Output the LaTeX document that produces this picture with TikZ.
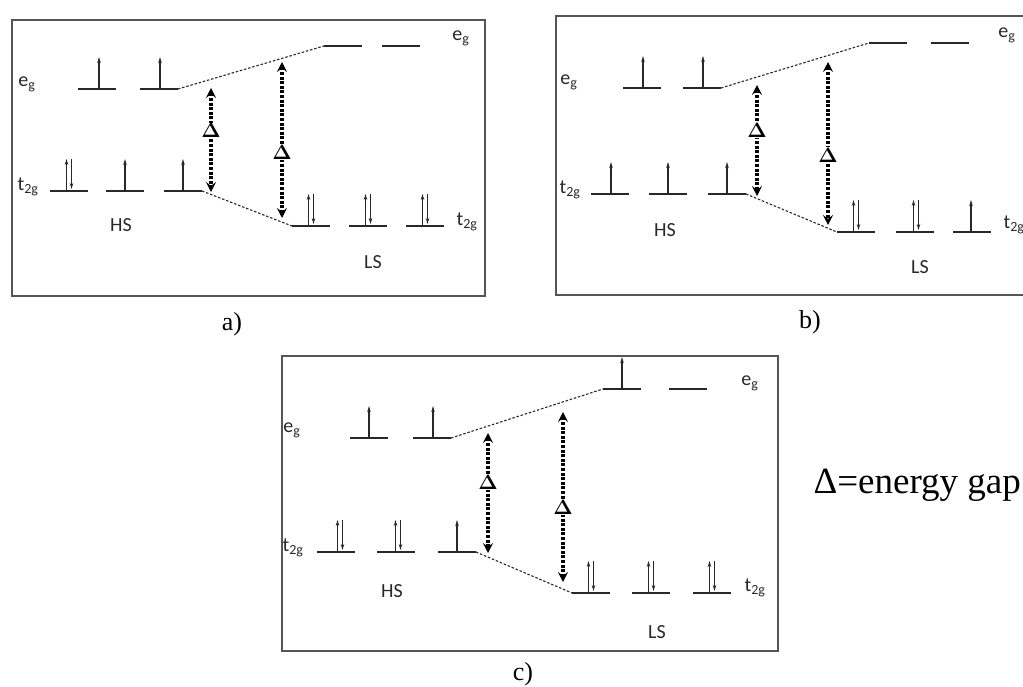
\documentclass[tikz,border=0pt]{standalone}
\usepackage{fontspec}
\setmainfont{Liberation Serif}
\newfontfamily\calibri{Carlito}
\usetikzlibrary{arrows.meta}
\definecolor{linegray}{RGB}{40, 40, 40}
\definecolor{framegray}{RGB}{85, 85, 85}

\begin{document}
\begin{tikzpicture}[x=1pt, y=-1pt, line width=1pt,
    panelbox/.style={framegray, line width=1.4pt},
    lvl/.style={linegray, line width=1.5pt},
    spin/.style={linegray, line width=1.4pt, -{Stealth[length=6pt, width=3.5pt]}},
    link/.style={linegray, line width=1.1pt, dash pattern=on 2.5pt off 1.8pt},
    gap/.style={black, line width=3.2pt, dash pattern=on 3pt off 1.6pt,
        {Stealth[length=10pt, width=10pt, inset=4pt]}-{Stealth[length=10pt, width=10pt, inset=4pt]}},
    delta/.style={fill=white, inner sep=0.3pt, font=\boldmath\fontsize{20}{20}\selectfont},
    orb/.style={font=\calibri\fontsize{20}{20}\selectfont, text=linegray},
    paneltag/.style={font=\fontsize{26}{26}\selectfont}]
    % Page size (pixels of the reference)
    \useasboundingbox (0,0) rectangle (1023,687);
    \def\hw{19}  % half-width of an orbital level
    \def\sl{32}  % length of a spin arrow

    % 1. Frames
    \draw[panelbox] (12,20) rectangle (485,296);
    \draw[panelbox] (556,16) rectangle (1026,295);
    \draw[panelbox] (282,356) rectangle (778,651);

    % 2. Orbital levels (name/centre x/y)
    \foreach \nm/\x/\y in {aHe1/97/89, aHe2/159/89, aLe1/343/46, aLe2/401/46,
                           aHt1/69/191, aHt2/125/191, aHt3/183/191,
                           aLt1/311/226, aLt2/368/226, aLt3/425/226,
                           bHe1/642/88, bHe2/702/88, bLe1/888/43, bLe2/950/43,
                           bHt1/610/194, bHt2/668/194, bHt3/727/194,
                           bLt1/856/232, bLt2/915/232, bLt3/972/232,
                           cHe1/369/438, cHe2/432/438, cLe1/622/389, cLe2/688/389,
                           cHt1/336/552, cHt2/396/552, cHt3/457/552,
                           cLt1/591/593, cLt2/651/593, cLt3/712/593}
        \draw[lvl] (\x-\hw,\y) coordinate (\nm-l) -- (\x+\hw,\y) coordinate (\nm-r);

    % 3. Single electrons
    \foreach \x/\y in {99/89, 160/89, 125/191, 183/191,
                       643/88, 703/88, 611/194, 668/194, 727/194, 971/232,
                       369/438, 433/438, 457/552, 622/389}
        \draw[spin] (\x,\y) -- ++(0,-\sl);

    % 4. Paired electrons
    \foreach \x/\y in {69/191, 311/226, 368/226, 425/226,
                       856/232, 916/232,
                       340/552, 398/552, 591/593, 651/593, 712/593} {
        \draw[spin] (\x-2.5,\y) -- ++(0,-\sl);
        \draw[spin] (\x+2.5,\y-\sl) -- (\x+2.5,\y-2);
    }

    % 5. Dotted correlation lines HS -> LS
    \draw[link] (aHe2-r) -- (aLe1-l);
    \draw[link] (aHt3-r) -- (aLt1-l);
    \draw[link] (bHe2-r) -- (bLe1-l);
    \draw[link] (bHt3-r) -- (bLt1-l);
    \draw[link] (cHe2-r) -- (cLe1-l);
    \draw[link] (cHt3-r) -- (cLt1-l);

    % 6. Energy gaps
    \coordinate (aG1t) at (211,88);  \coordinate (aG1b) at (211,192);
    \coordinate (aG2t) at (282,62);  \coordinate (aG2b) at (282,218);
    \coordinate (bG1t) at (757,85);  \coordinate (bG1b) at (757,196);
    \coordinate (bG2t) at (828,62);  \coordinate (bG2b) at (828,225);
    \coordinate (cG1t) at (488,433); \coordinate (cG1b) at (488,553);
    \coordinate (cG2t) at (563,412); \coordinate (cG2b) at (563,582);
    \draw[gap] (aG1t) -- (aG1b) node[pos=0.41, delta] (aD1) {$\Delta$};
    \draw[gap] (aG2t) -- (aG2b) node[pos=0.58, delta] (aD2) {$\Delta$};
    \draw[gap] (bG1t) -- (bG1b) node[pos=0.41, delta] (bD1) {$\Delta$};
    \draw[gap] (bG2t) -- (bG2b) node[pos=0.57, delta] (bD2) {$\Delta$};
    \draw[gap] (cG1t) -- (cG1b) node[pos=0.41, delta] (cD1) {$\Delta$};
    \draw[gap] (cG2t) -- (cG2b) node[pos=0.56, delta] (cD2) {$\Delta$};

    % 7. Orbital labels
    \node[orb] (aEgL) at (27,84)   {e\textsubscript{g}};
    \node[orb] (aTgL) at (28,187)  {t\textsubscript{2g}};
    \node[orb] (aEgR) at (461,38)  {e\textsubscript{g}};
    \node[orb] (aTgR) at (467,222) {t\textsubscript{2g}};
    \node[orb] (aHS)  at (121,225) {HS};
    \node[orb] (aLS)  at (373,262) {LS};

    \node[orb] (bEgL) at (569,82)   {e\textsubscript{g}};
    \node[orb] (bTgL) at (570,190)  {t\textsubscript{2g}};
    \node[orb] (bEgR) at (1007,35)  {e\textsubscript{g}};
    \node[orb] (bTgR) at (1014,225) {t\textsubscript{2g}};
    \node[orb] (bHS)  at (665,230)  {HS};
    \node[orb] (bLS)  at (920,267)  {LS};

    \node[orb] (cEgL) at (292,430) {e\textsubscript{g}};
    \node[orb] (cTgL) at (293,548) {t\textsubscript{2g}};
    \node[orb] (cEgR) at (750,383) {e\textsubscript{g}};
    \node[orb] (cTgR) at (755,588) {t\textsubscript{2g}};
    \node[orb] (cHS)  at (392,591) {HS};
    \node[orb] (cLS)  at (657,632) {LS};

    % 8. Captions and legend
    \node[paneltag] (capA) at (232,324) {a)};
    \node[paneltag] (capB) at (810,322) {b)};
    \node[paneltag] (capC) at (523,674) {c)};
    \node[anchor=base west, inner sep=0pt, font=\fontsize{37}{37}\selectfont] (legend) at (813,493) {Δ=energy gap};
\end{tikzpicture}
\end{document}
